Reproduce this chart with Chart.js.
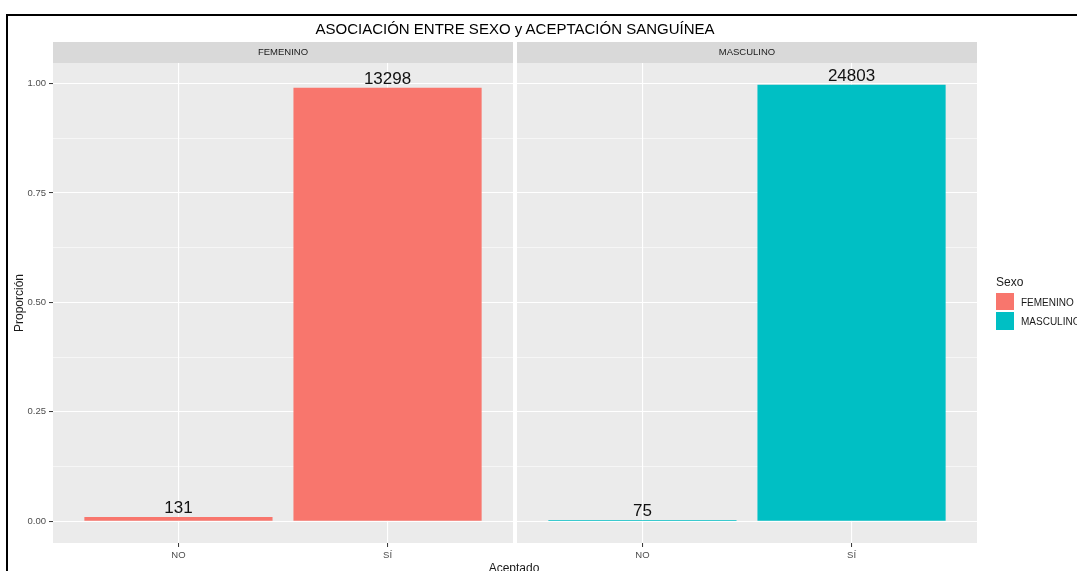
<!DOCTYPE html>
<html><head><meta charset="utf-8">
<script src="https://cdn.jsdelivr.net/npm/chart.js@4.4.0/dist/chart.umd.min.js"></script>
<style>
html,body{margin:0;padding:0;width:1077px;height:571px;overflow:hidden;background:#fff;font-family:"Liberation Sans",Arial,sans-serif;}
#frame{position:absolute;left:6px;top:14px;width:1100px;height:600px;border-left:2px solid #000;border-top:2px solid #000;}
canvas{position:absolute;top:0;}
#c1{left:0}
#c2{left:515px}
.t{position:absolute;white-space:nowrap;color:#1a1a1a}
#title{left:0;width:1030px;text-align:center;top:21px;font-size:15px;line-height:16px;color:#000}
#xtitle{left:0;width:1028px;text-align:center;top:562px;font-size:12px;line-height:12px}
#lgTitle{left:996px;top:276px;font-size:12px;line-height:12px}
.key{position:absolute;left:996px;width:18px}
.lgl{position:absolute;left:1021px;font-size:10px;line-height:10px;color:#1a1a1a;white-space:nowrap}
</style></head>
<body>
<div id="frame"></div>
<canvas id="c1" width="515" height="571"></canvas>
<canvas id="c2" width="562" height="571"></canvas>
<div class="t" id="title"></div>
<div class="t" id="xtitle"></div>
<div class="t" id="lgTitle"></div>
<div id="legend"></div>
<script>
const chartTitle = 'ASOCIACIÓN ENTRE SEXO y ACEPTACIÓN SANGUÍNEA';
const xAxisTitle = 'Aceptado';
const yAxisTitle = 'Proporción';
const legendTitle = 'Sexo';
const categories = ['NO', 'SÍ'];
const facets = ['FEMENINO', 'MASCULINO'];
const countsFemenino = [131, 13298];
const countsMasculino = [75, 24803];
const yMajorTicks = [0, 0.25, 0.5, 0.75, 1.0];
const yMinorTicks = [0.125, 0.375, 0.625, 0.875];
const facetColors = ['#F8766D', '#00BFC4'];

document.getElementById('title').textContent = chartTitle;
document.getElementById('xtitle').textContent = xAxisTitle;
document.getElementById('lgTitle').textContent = legendTitle;
const lg = document.getElementById('legend');
facets.forEach((f, i) => {
  const k = document.createElement('div');
  k.className = 'key';
  k.style.top = (293 + i * 19) + 'px';
  k.style.height = (i === 0 ? 17 : 18) + 'px';
  k.style.background = facetColors[i];
  lg.appendChild(k);
  const l = document.createElement('div');
  l.className = 'lgl';
  l.style.top = (298 + i * 19) + 'px';
  l.textContent = f;
  lg.appendChild(l);
});

Chart.defaults.font.family = '"Liberation Sans", Arial, sans-serif';

const stripPlugin = {
  id: 'strip',
  beforeDraw(chart, args, opts) {
    const {ctx, chartArea: a} = chart;
    ctx.save();
    ctx.fillStyle = '#D9D9D9';
    ctx.fillRect(a.left, a.top - 21, a.right - a.left, 21);
    ctx.fillStyle = '#1a1a1a';
    ctx.font = '9.5px "Liberation Sans", Arial, sans-serif';
    ctx.textAlign = 'center';
    ctx.textBaseline = 'middle';
    ctx.fillText(opts.text, (a.left + a.right) / 2, a.top - 10.5);
    ctx.fillStyle = '#EBEBEB';
    ctx.fillRect(a.left, a.top, a.right - a.left, a.bottom - a.top);
    ctx.restore();
  }
};

const countLabelPlugin = {
  id: 'countLabels',
  afterDatasetsDraw(chart) {
    const {ctx} = chart;
    const ds = chart.data.datasets[0];
    const meta = chart.getDatasetMeta(0);
    ctx.save();
    ctx.fillStyle = '#111';
    ctx.font = '17px "Liberation Sans", Arial, sans-serif';
    ctx.textAlign = 'center';
    ctx.textBaseline = 'alphabetic';
    meta.data.forEach((bar, i) => {
      ctx.fillText(String(ds.counts[i]), bar.x, bar.y - 4);
    });
    ctx.restore();
  }
};

const isMajor = v => yMajorTicks.includes(v);

function makeChart(id, facetIdx, counts, showY, padRight) {
  const total = counts.reduce((a, b) => a + b, 0);
  const data = categories.map((c, i) => ({x: i + 1, y: counts[i] / total}));
  return new Chart(document.getElementById(id), {
    type: 'bar',
    data: {
      datasets: [{
        label: facets[facetIdx],
        data: data,
        counts: counts,
        backgroundColor: facetColors[facetIdx],
        borderWidth: 0,
        categoryPercentage: 1,
        barPercentage: 0.9
      }]
    },
    options: {
      responsive: false,
      animation: false,
      devicePixelRatio: 1,
      layout: {padding: {top: 63, right: padRight, left: 0, bottom: 0}},
      plugins: {
        legend: {display: false},
        tooltip: {enabled: false},
        strip: {text: facets[facetIdx]}
      },
      scales: {
        x: {
          type: 'linear',
          offset: false,
          min: 0.4,
          max: 2.6,
          afterBuildTicks: s => { s.ticks = categories.map((c, i) => ({value: i + 1})); },
          afterFit: s => { s.height = 28; },
          border: {display: false},
          grid: {offset: false, color: '#FFFFFF', lineWidth: 1.1, tickColor: '#333333', tickLength: 4, tickWidth: 1},
          ticks: {
            autoSkip: false, maxRotation: 0, padding: 3,
            color: '#4D4D4D', font: {size: 9.5},
            callback: v => categories[Math.round(v) - 1]
          }
        },
        y: {
          type: 'linear',
          min: -0.0498,
          max: 1.0468,
          afterBuildTicks: s => {
            s.ticks = [...yMajorTicks, ...yMinorTicks].sort((a, b) => a - b).map(v => ({value: v}));
          },
          afterFit: s => { s.width = showY ? 53 : 2; },
          border: {display: false},
          grid: {
            color: '#FFFFFF',
            lineWidth: c => (c.tick && isMajor(c.tick.value)) ? 1.1 : 0.55,
            tickColor: c => (c.tick && isMajor(c.tick.value)) ? '#333333' : 'rgba(0,0,0,0)',
            tickLength: 4,
            tickWidth: 1,
            drawTicks: showY
          },
          ticks: {
            display: showY,
            autoSkip: false, padding: 3,
            color: '#4D4D4D', font: {size: 9.5},
            callback: v => isMajor(v) ? v.toFixed(2) : ''
          },
          title: {
            display: showY, text: yAxisTitle, color: '#1a1a1a',
            font: {size: 12}, padding: {top: 12, bottom: 0}
          }
        }
      }
    },
    plugins: [stripPlugin, countLabelPlugin]
  });
}

makeChart('c1', 0, countsFemenino, true, 2);
makeChart('c2', 1, countsMasculino, false, 100);
</script>
</body></html>
